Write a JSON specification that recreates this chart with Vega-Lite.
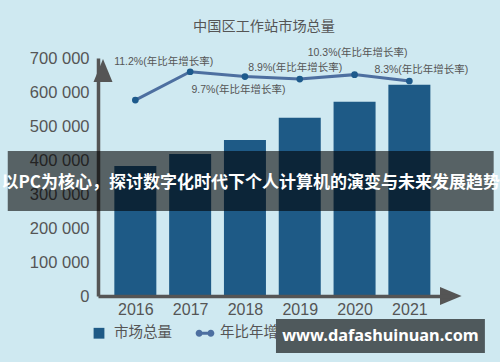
{
  "$schema": "https://vega.github.io/schema/vega-lite/v6.json",
  "width": 352,
  "height": 238,
  "autosize": {"type": "none"},
  "padding": {"left": 98, "top": 58, "right": 50, "bottom": 66},
  "background": "#cfe9f1",
  "config": {"view": {"stroke": null}, "font": "Liberation Sans", "axis": {"labelOverlap": false, "labelFlush": false, "labelBound": false}},
  "title": {"text": "中国区工作站市场总量", "font": "Noto Sans CJK SC", "fontSize": 14.2, "fontWeight": "normal", "color": "#555555", "dx": -10, "offset": 14},
  "datasets": {
    "market": [
      {"year": 2016, "market": 382000},
      {"year": 2017, "market": 418000},
      {"year": 2018, "market": 459000},
      {"year": 2019, "market": 524000},
      {"year": 2020, "market": 571000},
      {"year": 2021, "market": 621000}
    ],
    "growth": [
      {"year": 2016, "rate": 2.3, "label": ""},
      {"year": 2017, "rate": 11.2, "label": "11.2%(年比年增长率)"},
      {"year": 2018, "rate": 9.7, "label": "9.7%(年比年增长率)"},
      {"year": 2019, "rate": 8.9, "label": "8.9%(年比年增长率)"},
      {"year": 2020, "rate": 10.3, "label": "10.3%(年比年增长率)"},
      {"year": 2021, "rate": 8.3, "label": "8.3%(年比年增长率)"}
    ],
    "one": [{}]
  },
  "resolve": {"scale": {"y": "independent"}},
  "layer": [
    {
      "layer": [
        {
          "data": {"name": "market"},
          "mark": {"type": "bar", "size": 42},
          "encoding": {
            "x": {"field": "year", "type": "quantitative", "scale": {"domain": [2015.41, 2021.65], "nice": false, "zero": false},
              "axis": {"values": [2016, 2017, 2018, 2019, 2020, 2021], "format": "d", "title": null, "grid": false, "ticks": false, "labelFontSize": 16, "labelColor": "#555555", "labelPadding": 5, "labelOverlap": false, "domainColor": "#555555", "domainWidth": 3.5, "zindex": 1}},
            "y": {"field": "market", "type": "quantitative", "scale": {"domain": [0, 700000], "nice": false},
              "axis": {"values": [0, 100000, 200000, 300000, 400000, 500000, 600000, 700000], "tickCount": 8, "labelExpr": "datum.value === 0 ? '0' : format(datum.value / 1000, 'd') + ' 000'", "title": null, "grid": false, "ticks": false, "labelFontSize": 16.5, "labelColor": "#555555", "labelPadding": 9, "labelOverlap": false, "labelFlush": false, "labelBound": false, "domainColor": "#555555", "domainWidth": 3.5, "zindex": 0}},
            "color": {"datum": "市场总量", "type": "nominal",
              "scale": {"domain": ["市场总量", "年比年增长率"], "range": ["#1e5a86", "#4d6fa0"]},
              "legend": {
                "orient": "none", "legendX": -8, "legendY": 266, "direction": "horizontal", "title": null,
                "labelFontSize": 14.5, "labelFont": "Noto Sans CJK SC", "labelColor": "#555555",
                "symbolSize": 324, "labelOffset": 6, "columnPadding": 23, "padding": 0,
                "encode": {
                  "symbols": {"update": {
                    "shape": {"signal": "datum.value === '市场总量' ? 'M-0.6,-0.6H0.6V0.6H-0.6Z' : 'M-1,-0.17H1V0.17H-1Z M-0.26,0A0.39,0.39 0 1,1 -1.04,0A0.39,0.39 0 1,1 -0.26,0Z M1.04,0A0.39,0.39 0 1,1 0.26,0A0.39,0.39 0 1,1 1.04,0Z'"},
                    "fill": {"signal": "datum.value === '市场总量' ? '#1e5a86' : '#2f5f93'"},
                    "strokeWidth": {"value": 0},
                    "opacity": {"value": 1}
                  }},
                  "labels": {"update": {
                    "limit": {"signal": "datum.value === '年比年增长率' ? 59 : 200"},
                    "ellipsis": {"value": "\u200b"}
                  }}
                }
              }}
          }
        },
        {
          "data": {"name": "one"},
          "mark": {"type": "point", "shape": "M0,-1.2L1,1.2L-1,1.2Z", "size": 361, "filled": true, "color": "#555555", "opacity": 1, "strokeWidth": 0},
          "encoding": {
            "x": {"datum": 2015.41, "type": "quantitative", "scale": {"domain": [2015.41, 2021.65], "nice": false, "zero": false}},
            "y": {"datum": 663235, "type": "quantitative", "scale": {"domain": [0, 700000], "nice": false},
              "axis": {"values": [0, 100000, 200000, 300000, 400000, 500000, 600000, 700000], "tickCount": 8, "labelExpr": "datum.value === 0 ? '0' : format(datum.value / 1000, 'd') + ' 000'", "title": null, "grid": false, "ticks": false, "labelFontSize": 16.5, "labelColor": "#555555", "labelPadding": 9, "labelOverlap": false, "labelFlush": false, "labelBound": false, "domainColor": "#555555", "domainWidth": 3.5, "zindex": 0}}
          }
        },
        {
          "data": {"name": "one"},
          "mark": {"type": "point", "shape": "M1.2,0L-1.2,1L-1.2,-1Z", "size": 324, "filled": true, "color": "#555555", "opacity": 1, "strokeWidth": 0},
          "encoding": {
            "x": {"datum": 2021.756, "type": "quantitative", "scale": {"domain": [2015.41, 2021.65], "nice": false, "zero": false}},
            "y": {"datum": 0, "type": "quantitative", "scale": {"domain": [0, 700000], "nice": false},
              "axis": {"values": [0, 100000, 200000, 300000, 400000, 500000, 600000, 700000], "tickCount": 8, "labelExpr": "datum.value === 0 ? '0' : format(datum.value / 1000, 'd') + ' 000'", "title": null, "grid": false, "ticks": false, "labelFontSize": 16.5, "labelColor": "#555555", "labelPadding": 9, "labelOverlap": false, "labelFlush": false, "labelBound": false, "domainColor": "#555555", "domainWidth": 3.5, "zindex": 0}}
          }
        },
        {
          "data": {"name": "one"},
          "mark": {"type": "rect", "color": "#000000", "opacity": 0.58},
          "encoding": {
            "x": {"datum": 2013.672, "type": "quantitative", "scale": {"domain": [2015.41, 2021.65], "nice": false, "zero": false}},
            "x2": {"datum": 2022.538},
            "y": {"datum": 426470, "type": "quantitative", "scale": {"domain": [0, 700000], "nice": false},
              "axis": {"values": [0, 100000, 200000, 300000, 400000, 500000, 600000, 700000], "tickCount": 8, "labelExpr": "datum.value === 0 ? '0' : format(datum.value / 1000, 'd') + ' 000'", "title": null, "grid": false, "ticks": false, "labelFontSize": 16.5, "labelColor": "#555555", "labelPadding": 9, "labelOverlap": false, "labelFlush": false, "labelBound": false, "domainColor": "#555555", "domainWidth": 3.5, "zindex": 0}},
            "y2": {"datum": 250000}
          }
        },
        {
          "data": {"name": "one"},
          "mark": {"type": "text", "text": "以PC为核心，探讨数字化时代下个人计算机的演变与未来发展趋势", "font": "Noto Sans CJK SC", "fontWeight": "bold", "fontSize": 17, "color": "#ffffff", "align": "center", "baseline": "middle"},
          "encoding": {
            "x": {"datum": 2018.105, "type": "quantitative", "scale": {"domain": [2015.41, 2021.65], "nice": false, "zero": false}},
            "y": {"datum": 332353, "type": "quantitative", "scale": {"domain": [0, 700000], "nice": false},
              "axis": {"values": [0, 100000, 200000, 300000, 400000, 500000, 600000, 700000], "tickCount": 8, "labelExpr": "datum.value === 0 ? '0' : format(datum.value / 1000, 'd') + ' 000'", "title": null, "grid": false, "ticks": false, "labelFontSize": 16.5, "labelColor": "#555555", "labelPadding": 9, "labelOverlap": false, "labelFlush": false, "labelBound": false, "domainColor": "#555555", "domainWidth": 3.5, "zindex": 0}}
          }
        },
        {
          "data": {"name": "one"},
          "mark": {"type": "rect", "color": "#000000", "opacity": 0.62},
          "encoding": {
            "x": {"datum": 2018.566, "type": "quantitative", "scale": {"domain": [2015.41, 2021.65], "nice": false, "zero": false}},
            "x2": {"datum": 2022.378},
            "y": {"datum": -67647, "type": "quantitative", "scale": {"domain": [0, 700000], "nice": false},
              "axis": {"values": [0, 100000, 200000, 300000, 400000, 500000, 600000, 700000], "tickCount": 8, "labelExpr": "datum.value === 0 ? '0' : format(datum.value / 1000, 'd') + ' 000'", "title": null, "grid": false, "ticks": false, "labelFontSize": 16.5, "labelColor": "#555555", "labelPadding": 9, "labelOverlap": false, "labelFlush": false, "labelBound": false, "domainColor": "#555555", "domainWidth": 3.5, "zindex": 0}},
            "y2": {"datum": -167647}
          }
        },
        {
          "data": {"name": "one"},
          "mark": {"type": "text", "text": "www.dafashuinuan.com", "font": "Noto Sans", "fontWeight": "bold", "fontSize": 16.3, "color": "#ffffff", "align": "center", "baseline": "middle"},
          "encoding": {
            "x": {"datum": 2020.472, "type": "quantitative", "scale": {"domain": [2015.41, 2021.65], "nice": false, "zero": false}},
            "y": {"datum": -117647, "type": "quantitative", "scale": {"domain": [0, 700000], "nice": false},
              "axis": {"values": [0, 100000, 200000, 300000, 400000, 500000, 600000, 700000], "tickCount": 8, "labelExpr": "datum.value === 0 ? '0' : format(datum.value / 1000, 'd') + ' 000'", "title": null, "grid": false, "ticks": false, "labelFontSize": 16.5, "labelColor": "#555555", "labelPadding": 9, "labelOverlap": false, "labelFlush": false, "labelBound": false, "domainColor": "#555555", "domainWidth": 3.5, "zindex": 0}}
          }
        }
      ]
    },
    {
      "data": {"name": "growth"},
      "encoding": {
        "x": {"field": "year", "type": "quantitative", "scale": {"domain": [2015.41, 2021.65], "nice": false, "zero": false}},
        "y": {"field": "rate", "type": "quantitative", "scale": {"domain": [-59.31, 15.53], "nice": false, "zero": false}, "axis": null}
      },
      "layer": [
        {
          "mark": {"type": "line", "strokeWidth": 3},
          "encoding": {"color": {"datum": "年比年增长率", "type": "nominal"}}
        },
        {
          "mark": {"type": "point", "filled": true, "size": 45, "color": "#1d5a8c", "opacity": 1}
        },
        {
          "transform": [{"filter": "datum.year === 2017"}],
          "mark": {"type": "text", "dx": -26.5, "dy": -9.8, "fontSize": 10.5, "color": "#555555", "font": "Liberation Sans, Noto Sans CJK SC", "baseline": "middle"},
          "encoding": {"text": {"field": "label"}}
        },
        {
          "transform": [{"filter": "datum.year === 2018"}],
          "mark": {"type": "text", "dx": -6.5, "dy": 13.5, "fontSize": 10.5, "color": "#555555", "font": "Liberation Sans, Noto Sans CJK SC", "baseline": "middle"},
          "encoding": {"text": {"field": "label"}}
        },
        {
          "transform": [{"filter": "datum.year === 2019"}],
          "mark": {"type": "text", "dx": -4.5, "dy": -11.1, "fontSize": 10.5, "color": "#555555", "font": "Liberation Sans, Noto Sans CJK SC", "baseline": "middle"},
          "encoding": {"text": {"field": "label"}}
        },
        {
          "transform": [{"filter": "datum.year === 2020"}],
          "mark": {"type": "text", "dx": 3, "dy": -21.6, "fontSize": 10.5, "color": "#555555", "font": "Liberation Sans, Noto Sans CJK SC", "baseline": "middle"},
          "encoding": {"text": {"field": "label"}}
        },
        {
          "transform": [{"filter": "datum.year === 2021"}],
          "mark": {"type": "text", "dx": 12, "dy": -11, "fontSize": 10.5, "color": "#555555", "font": "Liberation Sans, Noto Sans CJK SC", "baseline": "middle"},
          "encoding": {"text": {"field": "label"}}
        }
      ]
    }
  ]
}
